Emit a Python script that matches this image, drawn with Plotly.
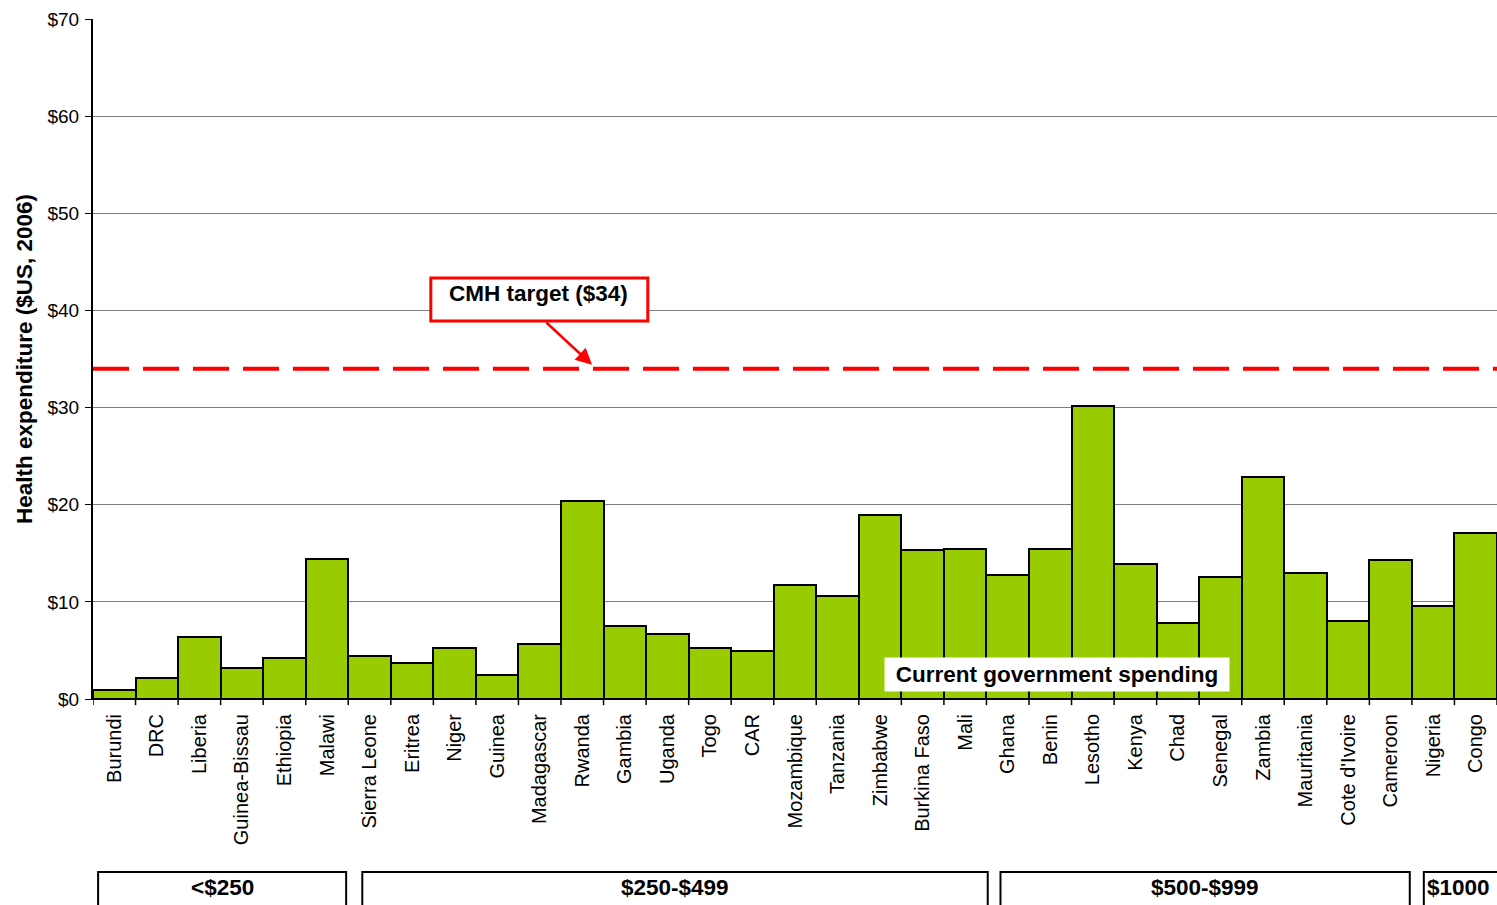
import plotly.graph_objects as go

# Per-capita government health expenditure by country ($US, 2006)
countries = [
    "Burundi", "DRC", "Liberia", "Guinea-Bissau", "Ethiopia", "Malawi",
    "Sierra Leone", "Eritrea", "Niger", "Guinea", "Madagascar", "Rwanda",
    "Gambia", "Uganda", "Togo", "CAR", "Mozambique", "Tanzania", "Zimbabwe",
    "Burkina Faso", "Mali", "Ghana", "Benin", "Lesotho", "Kenya", "Chad",
    "Senegal", "Zambia", "Mauritania", "Cote d'Ivoire", "Cameroon",
    "Nigeria", "Congo",
]
spending = [
    0.9, 2.2, 6.4, 3.2, 4.2, 14.4,
    4.4, 3.7, 5.3, 2.5, 5.7, 20.4,
    7.5, 6.7, 5.3, 4.9, 11.7, 10.6, 18.9,
    15.3, 15.4, 12.8, 15.4, 30.2, 13.9, 7.8,
    12.6, 22.9, 13.0, 8.0, 14.3,
    9.6, 17.1,
]
cmh_target = 34

# Income groups: label, first and last country index
group_labels = ["<$250", "$250-$499", "$500-$999", "$1000"]
group_first = [0, 6, 21, 31]
group_last = [5, 20, 30, 32]

FONT = "Arial, Liberation Sans, sans-serif"
GREEN = "#99CC00"
BOLD_SIZE = 22.5

fig = go.Figure()
fig.add_trace(go.Bar(
    x=list(range(len(countries))),
    y=spending,
    marker=dict(color=GREEN, line=dict(color="black", width=2)),
    width=1.0,
    hoverinfo="x+y",
))

# CMH target line
fig.add_shape(type="line", xref="paper", yref="y", x0=0, x1=1,
              y0=cmh_target, y1=cmh_target,
              line=dict(color="#FF0000", width=4, dash="36px,14px"))

# Box around the target label
fig.add_shape(type="rect", xref="x", yref="y", x0=7.44, x1=12.54,
              y0=38.91, y1=43.34, fillcolor="white", layer="above",
              line=dict(color="#FF0000", width=3))

annotations = [
    # target label text
    dict(x=9.98, y=41.7, xref="x", yref="y", text="<b>CMH target ($34)</b>",
         showarrow=False, font=dict(family=FONT, size=BOLD_SIZE, color="black"),
         xanchor="center", yanchor="middle"),
    # arrow pointing at the target line
    dict(x=11.23, y=34.4, xref="x", yref="y", ax=10.12, ay=38.9,
         axref="x", ayref="y", text="", showarrow=True, arrowhead=2,
         arrowsize=1.3, arrowwidth=2.5, arrowcolor="#FF0000"),
    # series label
    dict(x=22.16, y=2.52, xref="x", yref="y",
         text="<b>Current government spending</b>", showarrow=False,
         font=dict(family=FONT, size=BOLD_SIZE, color="black"),
         bgcolor="white", borderpad=1, width=342, height=31),
    # y-axis title
    dict(x=-0.0491, y=0.5, xref="paper", yref="paper",
         text="<b>Health expenditure ($US, 2006)</b>", showarrow=False,
         textangle=-90, xanchor="center", yanchor="middle",
         font=dict(family=FONT, size=BOLD_SIZE, color="black")),
]

# Income group boxes below the category labels
box_x0 = [-0.38, 5.83, 20.83, 30.78]
box_x1 = [5.45, 20.53, 30.45, 33.5]
for i, label in enumerate(group_labels):
    fig.add_shape(type="rect", xref="x", yref="paper",
                  x0=box_x0[i], x1=box_x1[i], y0=-0.33, y1=-0.2544,
                  line=dict(color="black", width=2), fillcolor="white",
                  layer="above")
    if i < 3:
        cx = (box_x0[i] + box_x1[i]) / 2
        annotations.append(dict(x=cx, y=-0.2765, xref="x", yref="paper",
                                text=f"<b>{label}</b>", showarrow=False,
                                font=dict(family=FONT, size=BOLD_SIZE,
                                          color="black"),
                                xanchor="center", yanchor="middle"))
    else:
        annotations.append(dict(x=box_x0[i] + 0.02, y=-0.2765, xref="x",
                                yref="paper", text=f"<b>{label}</b>",
                                showarrow=False,
                                font=dict(family=FONT, size=BOLD_SIZE,
                                          color="black"),
                                xanchor="left", yanchor="middle"))

fig.update_layout(
    width=1497, height=905,
    margin=dict(l=93, r=0, t=19, b=206),
    paper_bgcolor="white", plot_bgcolor="white",
    showlegend=False, bargap=0,
    font=dict(family=FONT, color="black"),
    annotations=annotations,
    xaxis=dict(
        range=[-0.5, len(countries) - 0.5],
        tickmode="array",
        tickvals=list(range(len(countries))),
        ticktext=countries,
        tickangle=-90,
        tickfont=dict(family=FONT, size=20, color="black"),
        ticks="",
        ticklabelstandoff=6,
        showgrid=False,
        showline=True, linecolor="black", linewidth=1,
        zeroline=False,
    ),
    yaxis=dict(
        range=[0, 70], dtick=10, tickprefix="$",
        tickfont=dict(family=FONT, size=19, color="black"),
        ticks="outside", ticklen=6, tickcolor="black",
        ticklabelstandoff=2,
        showgrid=True, gridcolor="#808080", gridwidth=1,
        showline=True, linecolor="black", linewidth=2,
        zeroline=False,
    ),
)

# Tick marks at category boundaries on the x axis
for k in range(len(countries) + 1):
    fig.add_shape(type="line", xref="x", yref="paper",
                  x0=k - 0.5, x1=k - 0.5, y0=0, y1=-0.009,
                  line=dict(color="black", width=1.5))

fig.write_html("out.html")
